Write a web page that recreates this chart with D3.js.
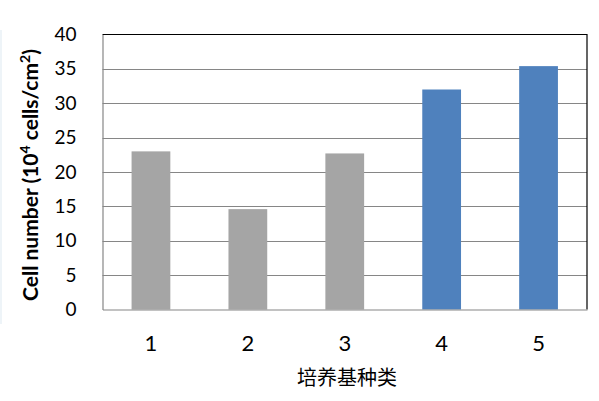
<!DOCTYPE html>
<html>
<head>
<meta charset="utf-8">
<script src="https://cdn.jsdelivr.net/npm/d3@7"></script>
<style>
  body { margin: 0; background: #fff; }
  svg { display: block; }
</style>
</head>
<body>
<svg id="chart" width="599" height="401"></svg>
<script>
'use strict';
const CATEGORIES = ['1', '2', '3', '4', '5'];
const VALUES = [23.0, 14.6, 22.7, 32.0, 35.4];
const GROUPS = ['control', 'control', 'control', 'test', 'test'];
const Y_TICKS = [0, 5, 10, 15, 20, 25, 30, 35, 40];
const GROUP_COLORS = { control: '#a5a5a5', test: '#4f81bd' };

const margin = { top: 34.5, right: 12, bottom: 91.5, left: 102.5 };
const width = 599, height = 401;

const svg = d3.select('#chart');

// faint frame line at left edge of the picture
svg.append('line')
  .attr('x1', 1).attr('x2', 1).attr('y1', 30).attr('y2', 324)
  .attr('stroke', '#e8f0f6').attr('stroke-width', 1.5);

const x = d3.scaleBand()
  .domain(CATEGORIES)
  .range([margin.left, width - margin.right])
  .paddingInner(0.6)
  .paddingOuter(0.3);

const y = d3.scaleLinear()
  .domain([0, 40])
  .range([height - margin.bottom, margin.top]);

// gridlines
svg.append('g')
  .selectAll('line')
  .data(Y_TICKS.filter((t) => t > 0 && t < 40))
  .enter()
  .append('line')
  .attr('x1', margin.left).attr('x2', width - margin.right)
  .attr('y1', (d) => Math.round(y(d)) + 0.5).attr('y2', (d) => Math.round(y(d)) + 0.5)
  .attr('stroke', '#868686').attr('stroke-width', 1);

// bars
svg.append('g')
  .selectAll('rect')
  .data(VALUES)
  .enter()
  .append('rect')
  .attr('x', (d, i) => x(CATEGORIES[i]))
  .attr('y', (d) => y(d))
  .attr('width', x.bandwidth())
  .attr('height', (d) => y(0) - y(d))
  .attr('fill', (d, i) => GROUP_COLORS[GROUPS[i]]);

// plot border: top and right black
svg.append('path')
  .attr('d', `M${margin.left},${y(40)}H${width - margin.right}V${y(0)}`)
  .attr('fill', 'none').attr('stroke', '#000').attr('stroke-width', 1.2);

// y axis
const yAxis = svg.append('g')
  .attr('transform', `translate(${margin.left},0)`)
  .call(d3.axisLeft(y).tickValues(Y_TICKS).tickSize(0).tickPadding(26));
yAxis.select('.domain').attr('stroke', '#868686').attr('stroke-width', 1.2);
yAxis.selectAll('.tick text')
  .attr('fill', '#000')
  .style('font-family', 'Lato, "Open Sans", sans-serif')
  .style('font-size', '19px');

// x axis
const xAxis = svg.append('g')
  .attr('transform', `translate(0,${y(0)})`)
  .call(d3.axisBottom(x).tickSize(0).tickPadding(26));
xAxis.select('.domain').attr('stroke', '#868686').attr('stroke-width', 1.2);
xAxis.selectAll('.tick text')
  .attr('fill', '#000')
  .style('font-family', 'Lato, "Open Sans", sans-serif')
  .style('font-size', '22px');

// x title
svg.append('text')
  .attr('x', 347).attr('y', 385)
  .attr('text-anchor', 'middle')
  .style('font-family', '"Noto Sans CJK SC", sans-serif')
  .style('font-size', '20px')
  .text('培养基种类');

// y title
const yTitle = svg.append('text')
  .attr('transform', 'translate(38,175) rotate(-90)')
  .attr('text-anchor', 'middle')
  .style('font-family', 'Lato, "Open Sans", sans-serif')
  .style('font-size', '21px')
  .style('font-weight', 'bold');
yTitle.append('tspan').text('Cell number (10');
yTitle.append('tspan').attr('dy', -8).style('font-size', '14px').text('4');
yTitle.append('tspan').attr('dy', 8).text(' cells/cm');
yTitle.append('tspan').attr('dy', -8).style('font-size', '14px').text('2');
yTitle.append('tspan').attr('dy', 8).text(')');
</script>
</body>
</html>
